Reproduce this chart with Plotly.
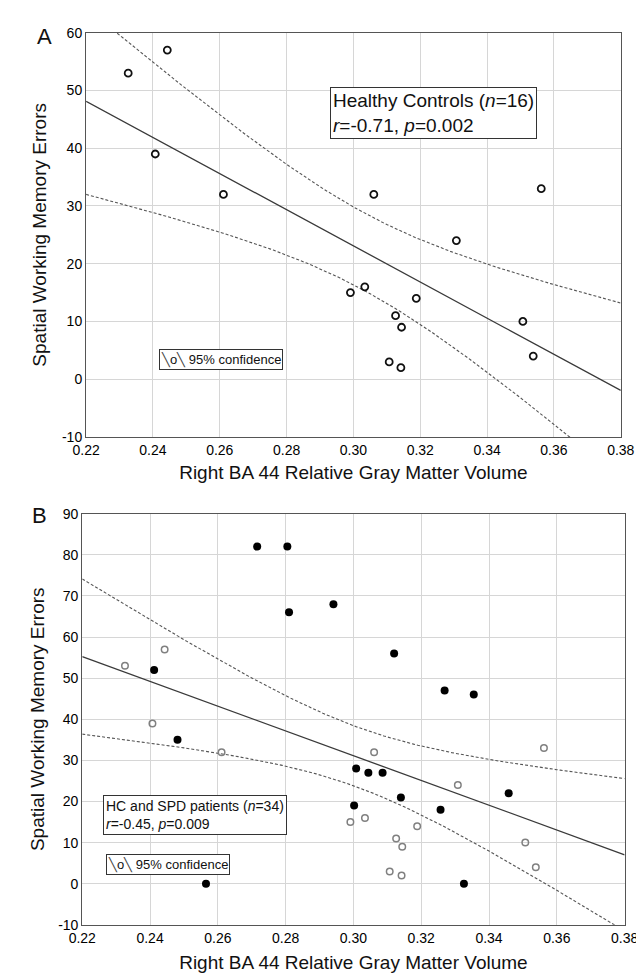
import numpy as np
import plotly.graph_objects as go

# ---------------- data ----------------
# Healthy controls (n=16): right BA44 relative GM volume vs SWM errors
hc_x = [0.2326, 0.2443, 0.2407, 0.2611, 0.3061, 0.3562, 0.3308, 0.2991,
        0.3034, 0.3188, 0.3126, 0.3144, 0.3107, 0.3142, 0.3507, 0.3538]
hc_y = [53, 57, 39, 32, 32, 33, 24, 15, 16, 14, 11, 9, 3, 2, 10, 4]

# SPD patients (n=18)
spd_x = [0.2716, 0.2805, 0.2810, 0.2941, 0.3120, 0.2412, 0.3269, 0.3355, 0.2481,
         0.3008, 0.3044, 0.3086, 0.3140, 0.3458, 0.3002, 0.3257, 0.2565, 0.3326]
spd_y = [82, 82, 66, 68, 56, 52, 47, 46, 35, 28, 27, 27, 21, 22, 19, 18, 0, 0]

x_ticks = [0.22, 0.24, 0.26, 0.28, 0.30, 0.32, 0.34, 0.36, 0.38]
x_ticktext = ["0.22", "0.24", "0.26", "0.28", "0.30", "0.32", "0.34", "0.36", "0.38"]
yA_ticks = [-10, 0, 10, 20, 30, 40, 50, 60]
yA_ticktext = ["-10", "0", "10", "20", "30", "40", "50", "60"]
yB_ticks = [-10, 0, 10, 20, 30, 40, 50, 60, 70, 80, 90]
yB_ticktext = ["-10", "0", "10", "20", "30", "40", "50", "60", "70", "80", "90"]

# two-sided 95% t critical values
T_CRIT = {14: 2.1448, 32: 2.0369}


def fit_with_ci(x, y, xgrid):
    """OLS regression line and 95% confidence band of the mean."""
    x = np.asarray(x, float)
    y = np.asarray(y, float)
    n = len(x)
    xm, ym = x.mean(), y.mean()
    sxx = ((x - xm) ** 2).sum()
    slope = ((x - xm) * (y - ym)).sum() / sxx
    icpt = ym - slope * xm
    resid = y - (icpt + slope * x)
    s = np.sqrt((resid ** 2).sum() / (n - 2))
    yhat = icpt + slope * xgrid
    half = T_CRIT[n - 2] * s * np.sqrt(1.0 / n + (xgrid - xm) ** 2 / sxx)
    return yhat, yhat - half, yhat + half


xgrid = np.linspace(0.22, 0.38, 161)
fitA, loA, hiA = fit_with_ci(hc_x, hc_y, xgrid)
fitB, loB, hiB = fit_with_ci(hc_x + spd_x, hc_y + spd_y, xgrid)

W, H = 644, 975
FONT = "Liberation Sans, Arial, Helvetica, sans-serif"

fig = go.Figure()

line_fit = dict(color="#3a3a3a", width=1.3)
line_ci = dict(color="#555555", width=1.1, dash="3px,2px")

# ---- Panel A ----
for yy, ln in ((hiA, line_ci), (loA, line_ci), (fitA, line_fit)):
    fig.add_trace(go.Scatter(x=xgrid, y=yy, mode="lines", line=ln,
                             showlegend=False, hoverinfo="skip",
                             xaxis="x", yaxis="y"))
fig.add_trace(go.Scatter(x=hc_x, y=hc_y, mode="markers",
                         marker=dict(symbol="circle-open", size=7, color="#111",
                                     line=dict(width=1.8)),
                         showlegend=False, xaxis="x", yaxis="y"))

# ---- Panel B ----
for yy, ln in ((hiB, line_ci), (loB, line_ci), (fitB, line_fit)):
    fig.add_trace(go.Scatter(x=xgrid, y=yy, mode="lines", line=ln,
                             showlegend=False, hoverinfo="skip",
                             xaxis="x2", yaxis="y2"))
fig.add_trace(go.Scatter(x=hc_x, y=hc_y, mode="markers",
                         marker=dict(symbol="circle-open", size=6.5, color="#808080",
                                     line=dict(width=1.5)),
                         showlegend=False, xaxis="x2", yaxis="y2"))
fig.add_trace(go.Scatter(x=spd_x, y=spd_y, mode="markers",
                         marker=dict(symbol="circle", size=8, color="#000"),
                         showlegend=False, xaxis="x2", yaxis="y2"))


def px_x(p):
    return p / W


def px_y(p):
    return 1 - p / H


axis_common = dict(showgrid=True, gridcolor="#d6d6d6", gridwidth=1,
                   showline=True, linecolor="#555", linewidth=1.2, mirror=True,
                   ticks="", zeroline=False,
                   tickfont=dict(size=14, color="#000", family=FONT))
title_font = dict(size=19, color="#111", family=FONT)

fig.update_layout(
    width=W, height=H,
    margin=dict(l=0, r=0, t=0, b=0),
    paper_bgcolor="white", plot_bgcolor="white",
    font=dict(family=FONT, color="#111"),
    showlegend=False,
    xaxis=dict(axis_common, domain=[px_x(67), px_x(626)], range=[0.22, 0.38],
               tickvals=x_ticks, ticktext=x_ticktext, anchor="y",
               title=dict(text="Right BA 44 Relative Gray Matter Volume",
                          font=title_font, standoff=8)),
    yaxis=dict(axis_common, domain=[px_y(428), px_y(17)], range=[-10, 60],
               tickvals=yA_ticks, ticktext=yA_ticktext, anchor="x",
               title=dict(text="Spatial Working Memory Errors",
                          font=title_font, standoff=10)),
    xaxis2=dict(axis_common, domain=[px_x(63), px_x(630)], range=[0.22, 0.38],
                tickvals=x_ticks, ticktext=x_ticktext, anchor="y2",
                title=dict(text="Right BA 44 Relative Gray Matter Volume",
                           font=title_font, standoff=10)),
    yaxis2=dict(axis_common, domain=[px_y(924), px_y(506)], range=[-10, 90],
                tickvals=yB_ticks, ticktext=yB_ticktext, anchor="x2",
                title=dict(text="Spatial Working Memory Errors",
                           font=title_font, standoff=8)),
)

box_common = dict(xref="paper", yref="paper", xanchor="left", yanchor="top",
                  showarrow=False, align="left", bgcolor="white",
                  bordercolor="#333", borderwidth=1)

fig.add_annotation(box_common, x=px_x(322), y=px_y(72), borderpad=2,
                   text="Healthy Controls (<i>n</i>=16)<br><i>r</i>=-0.71, <i>p</i>=0.002",
                   font=dict(size=19, color="#111", family=FONT))
fig.add_annotation(box_common, x=px_x(85), y=px_y(792), borderpad=2,
                   text="HC and SPD patients (<i>n</i>=34)<br><i>r</i>=-0.45, <i>p</i>=0.009",
                   font=dict(size=14, color="#111", family=FONT))

legend_text = ("<span style='color:#444'>\u2572</span>o<span style='color:#444'>\u2572</span>"
               " 95% confidence")
fig.add_annotation(box_common, x=px_x(143), y=px_y(339), borderpad=1,
                   text=legend_text, font=dict(size=13, color="#111", family=FONT))
fig.add_annotation(box_common, x=px_x(88), y=px_y(852), borderpad=1,
                   text=legend_text, font=dict(size=13, color="#111", family=FONT))

fig.add_annotation(x=px_x(24), y=px_y(21), xref="paper", yref="paper",
                   xanchor="center", yanchor="middle", showarrow=False,
                   text="A", font=dict(size=22, color="#111", family=FONT))
fig.add_annotation(x=px_x(18), y=px_y(508), xref="paper", yref="paper",
                   xanchor="center", yanchor="middle", showarrow=False,
                   text="B", font=dict(size=22, color="#111", family=FONT))

fig.write_html("out.html")
